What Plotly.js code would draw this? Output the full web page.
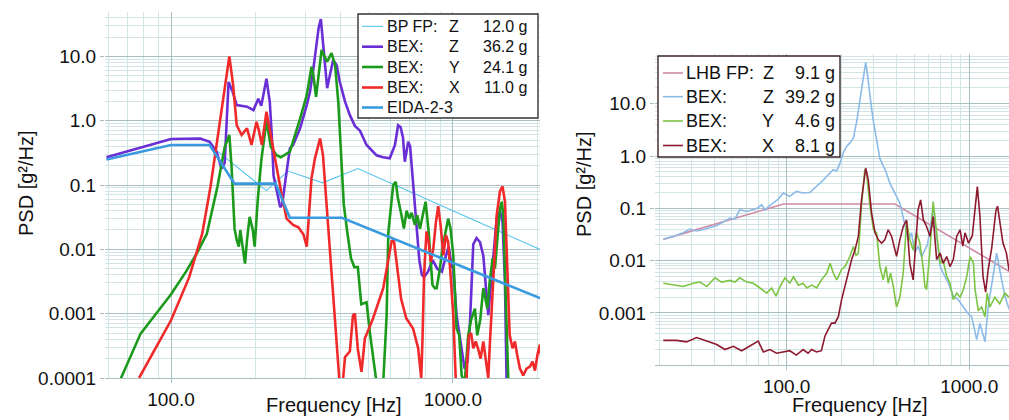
<!DOCTYPE html>
<html><head><meta charset="utf-8">
<script src="https://cdn.plot.ly/plotly-3.0.1.min.js"></script>
<style>html,body{margin:0;padding:0;background:#fff;}#chart{width:1009px;height:420px;}</style>
</head><body><div id="chart"></div>
<script>
// ---------- LEFT PANEL DATA ----------
const leftEidaFreq = [59, 100, 137, 168, 235, 264, 404, 2064];
const leftEidaPsd  = [0.25, 0.42, 0.42, 0.105, 0.105, 0.031, 0.031, 0.0017];

const leftBpFreq = [59, 100, 137, 218, 260, 345, 460, 2066];
const leftBpPsd  = [0.25, 0.42, 0.42, 0.082, 0.165, 0.108, 0.18, 0.0097];

const leftZFreq = [59,100,127,137,145,151,155,160,165,171,186,196,204,209,218,224,228,231,244,248,254,264,271,287,303,311,320,328,334,340,345,350,358,366,376,387,397,414,431,449,468,494,536,565,597,623,639,652,665,675,694,705,720,740,760,776,790,816,848,880,914,941,966,990,1003,1030,1074,1100,1127,1150,1181,1213,1247,1282,1310,1335,1360,1391,1430,1469,1500,1530,1555];
const leftZPsd  = [0.27,0.52,0.53,0.47,0.33,0.18,0.22,4.0,2.9,1.75,1.65,1.46,2.2,1.7,4.5,1.97,0.53,0.14,0.045,0.05,0.11,0.37,0.42,0.76,1.75,2.8,6.5,15,28,38,20,8.3,3.2,5.1,8.8,7.3,4.0,2.0,1.22,0.83,0.7,0.42,0.29,0.27,0.26,0.42,0.85,0.8,0.55,0.23,0.47,0.4,0.12,0.03,0.0068,0.004,0.0037,0.0045,0.0068,0.005,0.0045,0.0075,0.011,0.0055,0.005,0.00095,0.00029,0.00014,0.00018,0.00075,0.012,0.015,0.013,0.008,0.0025,0.00095,0.0025,0.0068,0.03,0.039,0.027,0.0031,0.00004];

const leftYFreq = [62,66.6,78,90,100,113,124,134,146,155,161,164,168,171,174,176,179,183,186,190,195,198,203,209,218,226,237,245,255,264,287,303,315,319,327,333,342,350,358,371,382,392,397,402,410,421,435,447,460,473,494,508,523,538,553,567,582,590,614,627,638,657,670,685,700,714,733,747,764,785,800,820,835,846,862,876,899,918,937,962,981,1003,1030,1053,1074,1100,1133,1160,1197,1220,1250,1282,1325,1350,1383,1410,1435,1469,1490,1510,1540,1565,1585];
const leftYPsd  = [0.00005,0.0001,0.00049,0.0011,0.002,0.0045,0.009,0.0175,0.093,0.39,0.6,0.19,0.021,0.014,0.011,0.02,0.011,0.006,0.014,0.032,0.02,0.011,0.058,0.24,1.0,0.39,0.29,0.27,0.3,0.33,1.08,2.5,6.9,5.5,2.35,5,12.6,10,8.3,11.2,7.3,1.97,0.6,0.18,0.05,0.02,0.0072,0.0053,0.0053,0.0014,0.0015,0.00049,0.000167,0.00007,0.00003,0.0001,0.00094,0.0183,0.1,0.112,0.063,0.034,0.021,0.04,0.03,0.037,0.024,0.034,0.021,0.037,0.055,0.019,0.0056,0.0028,0.0025,0.0025,0.005,0.0103,0.0166,0.03,0.021,0.0081,0.00059,0.00046,0.00011,0.00008,0.00046,0.0008,0.0012,0.00046,0.0008,0.0025,0.0012,0.0031,0.0072,0.005,0.013,0.043,0.055,0.034,0.0017,0.00018,0.00003];

const leftXFreq = [77,90,100,116,129,138,144,151,161,166,171,178,186,193,201,205,210,218,223,234,247,257,271,283,295,303,315,324,338,346,355,369,386,395,404,414,431,442,449,460,474,487,521,566,606,617,631,655,683,722,753,772,780,790,806,820,835,852,871,887,904,925,945,962,981,1003,1025,1060,1110,1125,1140,1160,1181,1205,1230,1254,1282,1310,1335,1350,1391,1430,1469,1500,1530,1557,1590,1628,1660,1690,1729,1776,1825,1876,1917,1955,1995,2035,2064];
const leftXPsd  = [0.0001,0.00035,0.00079,0.0037,0.0175,0.093,0.34,1.63,10,3.6,0.85,0.6,0.76,0.42,0.96,0.7,0.42,1.38,0.8,0.23,0.07,0.03,0.024,0.022,0.017,0.011,0.127,0.26,0.53,0.29,0.062,0.0057,0.00052,0.0001,0.00006,0.00021,0.00026,0.00094,0.001,0.00028,0.000125,0.00041,0.00085,0.0025,0.0133,0.014,0.0064,0.0017,0.00085,0.00059,0.00029,0.0001,0.0004,0.004,0.019,0.013,0.0064,0.0103,0.027,0.047,0.024,0.0081,0.0166,0.013,0.004,0.00095,0.00008,0.00004,0.00004,0.0002,0.00046,0.0005,0.00029,0.00037,0.00028,0.0002,0.00037,0.00018,0.0001,0.00029,0.004,0.034,0.08,0.095,0.055,0.0056,0.00046,0.00029,0.00037,0.00023,0.00014,0.00011,0.00014,0.00015,0.00018,0.00013,0.00023,0.00033,0.00018];

// ---------- RIGHT PANEL DATA ----------
const rightLhbFreq = [21.1, 96, 392, 2000];
const rightLhbPsd  = [0.0255, 0.121, 0.121, 0.0042];

const rightZFreq = [21.1,24,27,29.5,32,34.9,38,41.3,45,48.9,52,55.4,60.4,65.6,69,72.9,76.1,80,84.6,90,95.8,104,113,123,134,146,159,166,173,180,188,196,204,213,222,232,242,252,260,266,271,276,280,286,292,299,305,312,324,338,350,368,384,400,417,430,444,463,483,503,525,548,572,590,610,635,663,693,720,767,818,870,929,980,1030,1070,1099,1145,1180,1220,1270,1350,1414,1469,1568,1652,1750];
const rightZPsd  = [0.0259,0.029,0.034,0.040,0.037,0.039,0.043,0.0465,0.055,0.065,0.062,0.094,0.087,0.094,0.1,0.117,0.094,0.11,0.126,0.15,0.196,0.169,0.21,0.196,0.2,0.26,0.35,0.41,0.47,0.55,0.52,0.73,1.14,1.53,1.78,2.2,4.6,11.9,28.8,45,61.6,40,25,14,8,4.5,3,1.8,0.9,0.65,0.5,0.3,0.22,0.17,0.126,0.08,0.045,0.025,0.034,0.014,0.019,0.0119,0.0162,0.02,0.039,0.11,0.029,0.0078,0.0058,0.0038,0.0021,0.0018,0.0013,0.001,0.00086,0.0005,0.00031,0.00063,0.0004,0.00028,0.0013,0.005,0.014,0.0067,0.0021,0.0012,0.001];

const rightYFreq = [21.1,23.9,27.1,30.8,33.5,36.5,40.5,44,48.9,52,55.4,60.4,65.6,71.4,77.7,82.8,87.4,92,97.9,104,109,116,123,129,137,146,155,166,173,180,188,200,209,222,232,240,247,257,268,274,286,299,311,324,338,350,360,371,384,400,417,435,454,473,493,515,537,561,572,584,610,635,663,693,720,753,785,818,854,891,929,970,1011,1055,1077,1122,1170,1220,1255,1296,1382,1469,1568,1652,1750];
const rightYPsd  = [0.0037,0.0034,0.0032,0.0037,0.0039,0.0032,0.0047,0.0039,0.0042,0.0039,0.0047,0.0039,0.0037,0.003,0.0024,0.003,0.0021,0.0032,0.0047,0.0037,0.0049,0.0034,0.0037,0.003,0.0034,0.003,0.0043,0.0058,0.0089,0.0058,0.0043,0.0068,0.0077,0.012,0.0187,0.0126,0.0138,0.11,0.55,0.47,0.11,0.039,0.034,0.0077,0.0043,0.0077,0.0037,0.0058,0.0032,0.0013,0.002,0.0058,0.056,0.025,0.016,0.034,0.0216,0.0068,0.0032,0.0028,0.016,0.135,0.034,0.0089,0.01,0.005,0.0037,0.0018,0.0024,0.002,0.0028,0.005,0.012,0.0089,0.0028,0.0011,0.0013,0.00085,0.0024,0.0013,0.002,0.0015,0.0024,0.002,0.0018];

const rightXFreq = [21.1,25,28.3,32.1,36.5,41.4,45.9,51,56.7,62.9,69.9,74.5,81,88,95.8,104,113,123,131,137,146,155,162,169,176,184,192,200,209,218,227,237,247,257,271,280,292,305,318,331,345,360,376,392,400,417,435,454,473,493,503,525,542,561,584,610,635,663,693,720,753,785,818,854,891,922,949,992,1040,1080,1108,1145,1190,1230,1270,1330,1400,1430,1460,1530,1600,1652,1750];
const rightXPsd  = [0.0003,0.0003,0.00028,0.00034,0.00029,0.00025,0.0002,0.00023,0.00019,0.00023,0.00029,0.00018,0.0002,0.00017,0.00018,0.00019,0.000157,0.0002,0.00017,0.0002,0.00018,0.00019,0.00036,0.00047,0.00064,0.00064,0.00086,0.0018,0.0032,0.0058,0.0105,0.0162,0.029,0.145,0.59,0.35,0.081,0.034,0.025,0.0216,0.025,0.039,0.029,0.016,0.0121,0.025,0.045,0.06,0.0089,0.0043,0.012,0.094,0.145,0.06,0.045,0.029,0.07,0.0105,0.014,0.0089,0.012,0.0077,0.0105,0.029,0.039,0.019,0.034,0.0216,0.03,0.12,0.26,0.07,0.005,0.0025,0.0067,0.018,0.09,0.11,0.07,0.022,0.0138,0.0067,0.005];

// ---------- LABELS ----------
const leftNames  = ['BP FP:', 'BEX:', 'BEX:', 'BEX:', 'EIDA-2-3'];
const leftAxes   = ['Z', 'Z', 'Y', 'X', ''];
const leftGrms   = ['12.0 g', '36.2 g', '24.1 g', '11.0 g', ''];
const rightNames = ['LHB FP:', 'BEX:', 'BEX:', 'BEX:'];
const rightAxes  = ['Z', 'Z', 'Y', 'X'];
const rightGrms  = ['9.1 g', '39.2 g', '4.6 g', '8.1 g'];
const yTickVals  = [0.0001, 0.001, 0.01, 0.1, 1, 10];
const yTickText  = ['0.0001', '0.001', '0.01', '0.1', '1.0', '10.0'];
const xTickVals  = [100, 1000];
const xTickText  = ['100.0', '1000.0'];
const xTitle = 'Frequency [Hz]';
const yTitle = 'PSD [g\u00b2/Hz]';

// ---------- STYLE ----------
const W = 1009, H = 420;
const FONT = '"Liberation Sans", Arial, Helvetica, sans-serif';
const leftColors  = ['#56c3ee', '#6a2ed6', '#1c9a1c', '#f02a2a', '#3a9ae0'];
const leftWidths  = [1.1, 2.6, 2.6, 2.6, 2.6];
const rightColors = ['#cc8aa6', '#8dbbe8', '#7cc443', '#8e1a30'];
const GRID = '#a9c0c0', MINOR = '#d3e4e4';

function minorVals(lo, hi) {
  const out = [];
  for (let d = lo; d <= hi; d++) for (let m = 2; m <= 9; m++) out.push(m * Math.pow(10, d));
  return out;
}

const leftSeries = [
  [leftBpFreq, leftBpPsd], [leftZFreq, leftZPsd], [leftYFreq, leftYPsd],
  [leftXFreq, leftXPsd], [leftEidaFreq, leftEidaPsd]
];
const rightSeries = [
  [rightLhbFreq, rightLhbPsd], [rightZFreq, rightZPsd],
  [rightYFreq, rightYPsd], [rightXFreq, rightXPsd]
];

const traces = [];
leftSeries.forEach((s, i) => traces.push({
  type: 'scatter', mode: 'lines', x: s[0], y: s[1], xaxis: 'x', yaxis: 'y',
  name: (leftNames[i] + ' ' + leftAxes[i] + ' ' + leftGrms[i]).trim(),
  line: {color: leftColors[i], width: leftWidths[i]}, showlegend: false
}));
rightSeries.forEach((s, i) => traces.push({
  type: 'scatter', mode: 'lines', x: s[0], y: s[1], xaxis: 'x2', yaxis: 'y2',
  name: rightNames[i] + ' ' + rightAxes[i] + ' ' + rightGrms[i],
  line: {color: rightColors[i], width: 1.6}, showlegend: false
}));

const px = x => x / W, py = y => 1 - y / H;

function xAxis(domain, range, minor) {
  return {
    type: 'log', domain: domain, range: range,
    tickvals: xTickVals, ticktext: xTickText,
    tickfont: {family: FONT, size: 19, color: '#111'},
    ticks: 'outside', ticklen: 4, tickcolor: GRID,
    showgrid: true, gridcolor: GRID, gridwidth: 1,
    minor: {tickvals: minor, showgrid: true, gridcolor: MINOR, gridwidth: 1, ticks: ''},
    showline: true, linecolor: GRID, linewidth: 1, zeroline: false, fixedrange: true
  };
}
function yAxis(domain, range, anchor, tv, tt) {
  return {
    type: 'log', domain: domain, range: range, anchor: anchor,
    tickvals: tv, ticktext: tt,
    tickfont: {family: FONT, size: 19, color: '#111'},
    ticks: 'outside', ticklen: 4, tickcolor: GRID,
    showgrid: true, gridcolor: GRID, gridwidth: 1,
    minor: {tickvals: minorVals(-4, 1), showgrid: true, gridcolor: MINOR, gridwidth: 1, ticks: ''},
    showline: false, zeroline: false, fixedrange: true
  };
}

const shapes = [], annotations = [];
function legendBox(x0, x1, y0, y1, border, rows, names, axes, grms, colors, widths, fs, sx0, sx1, lx, ax, vx) {
  shapes.push({type: 'rect', xref: 'paper', yref: 'paper', x0: px(x0), x1: px(x1), y0: py(y1), y1: py(y0),
    fillcolor: '#ffffff', line: {color: border, width: 1.4}, layer: 'above'});
  rows.forEach((ry, i) => {
    shapes.push({type: 'line', xref: 'paper', yref: 'paper', x0: px(sx0), x1: px(sx1), y0: py(ry), y1: py(ry),
      line: {color: colors[i], width: widths[i]}, layer: 'above'});
    const f = {family: FONT, size: fs, color: '#111'};
    annotations.push({xref: 'paper', yref: 'paper', x: px(lx), y: py(ry), xanchor: 'left', yanchor: 'middle',
      text: names[i], showarrow: false, font: f});
    if (axes[i]) annotations.push({xref: 'paper', yref: 'paper', x: px(ax), y: py(ry), xanchor: 'center', yanchor: 'middle',
      text: axes[i], showarrow: false, font: f});
    if (grms[i]) annotations.push({xref: 'paper', yref: 'paper', x: px(vx), y: py(ry), xanchor: 'right', yanchor: 'middle',
      text: grms[i], showarrow: false, font: f});
  });
}
legendBox(358, 538, 14, 118, '#333333', [26.3, 46.7, 67, 87.5, 107.5], leftNames, leftAxes, leftGrms,
  leftColors, leftWidths, 16, 362, 383, 385, 454, 529);
legendBox(658, 840, 56, 157, '#3a2424', [73, 96.7, 121, 145.5], rightNames, rightAxes, rightGrms,
  rightColors, [1.6, 1.6, 1.6, 1.6], 18, 663, 683, 684, 768, 837);

// axis titles
const tf = {family: FONT, size: 20, color: '#111'};
annotations.push({xref: 'paper', yref: 'paper', x: px(26), y: py(183), text: yTitle, textangle: -90,
  showarrow: false, font: tf, xanchor: 'center', yanchor: 'middle'});
annotations.push({xref: 'paper', yref: 'paper', x: px(584), y: py(184), text: yTitle, textangle: -90,
  showarrow: false, font: tf, xanchor: 'center', yanchor: 'middle'});
annotations.push({xref: 'paper', yref: 'paper', x: px(334), y: py(418), text: xTitle,
  showarrow: false, font: tf, xanchor: 'center', yanchor: 'bottom'});
annotations.push({xref: 'paper', yref: 'paper', x: px(860), y: py(418), text: xTitle,
  showarrow: false, font: tf, xanchor: 'center', yanchor: 'bottom'});

const layout = {
  width: W, height: H, margin: {l: 0, r: 0, t: 0, b: 0},
  paper_bgcolor: '#ffffff', plot_bgcolor: '#ffffff',
  font: {family: FONT, size: 16, color: '#111'},
  showlegend: false, hovermode: false,
  xaxis: xAxis([px(105), px(540)], [Math.log10(58.3), Math.log10(2037)], [60, 70, 80, 90].concat(minorVals(2, 2), [2000])),
  yaxis: yAxis([py(378), py(12)], [-4, 1.69], 'x', yTickVals, yTickText),
  xaxis2: Object.assign(xAxis([px(655), 1], [Math.log10(19), 3.218], minorVals(1, 2).concat([2000])), {anchor: 'y2'}),
  yaxis2: yAxis([py(365.3), py(54)], [-4, 1.95], 'x2', yTickVals.slice(1), yTickText.slice(1)),
  shapes: shapes, annotations: annotations
};
layout.xaxis.anchor = 'y';

Plotly.newPlot('chart', traces, layout, {displayModeBar: false, staticPlot: true});
</script></body></html>
